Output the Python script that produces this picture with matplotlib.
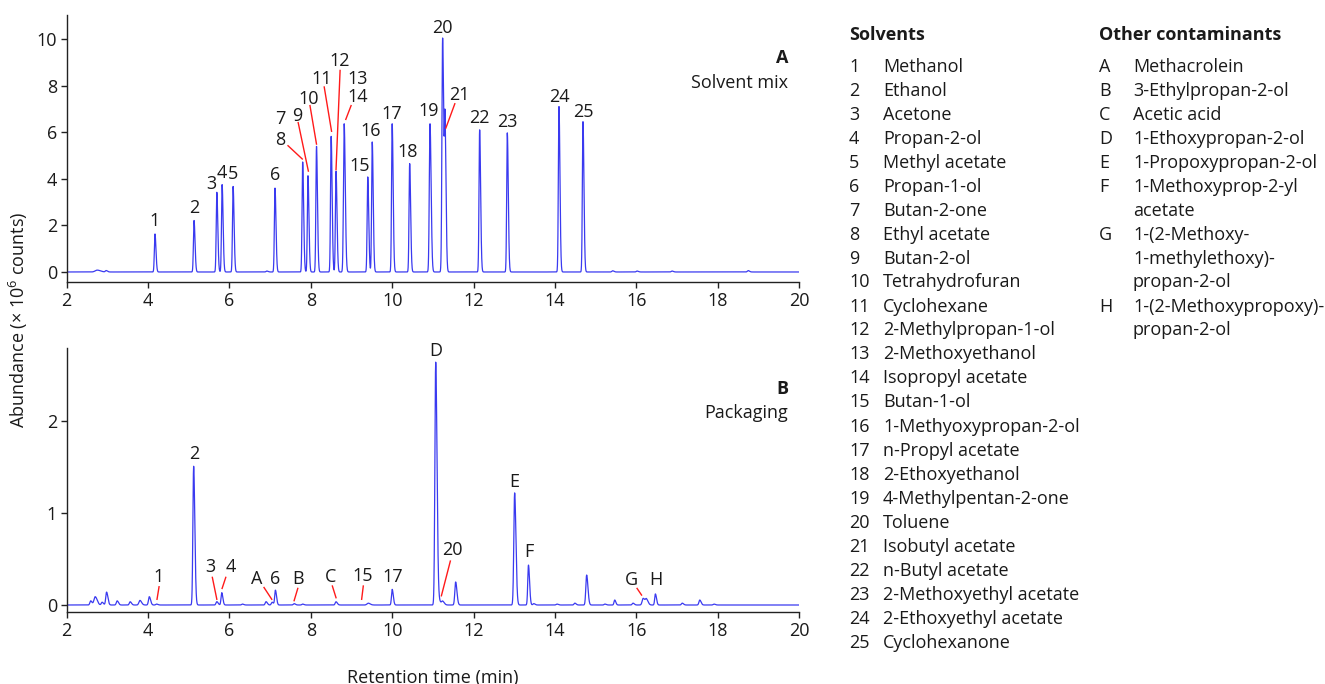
import numpy as np
import matplotlib
matplotlib.use("Agg")
import matplotlib.pyplot as plt
from matplotlib.transforms import offset_copy

plt.rcParams['font.family'] = ['Open Sans', 'DejaVu Sans']
plt.rcParams['mathtext.fontset'] = 'custom'
plt.rcParams['mathtext.rm'] = 'Open Sans'
plt.rcParams['mathtext.it'] = 'Open Sans'

# ---------------- data ----------------
# Panel A: solvent mix (retention time in min, abundance x1e6 counts)
a_rt = [2.75, 2.97, 4.17, 5.13, 5.69, 5.82, 6.09, 6.92, 7.12, 7.80, 7.93, 8.14, 8.50, 8.62,
        8.82, 9.40, 9.51, 10.00, 10.43, 10.93, 11.24, 11.30, 12.15, 12.83, 14.10, 14.69,
        15.42, 16.02, 16.88, 18.75]
a_h = [0.08, 0.06, 1.63, 2.21, 3.42, 3.75, 3.67, 0.04, 3.60, 4.72, 4.13, 5.39, 5.82, 4.32,
       6.36, 4.08, 5.58, 6.36, 4.65, 6.36, 10.04, 6.00, 6.10, 5.97, 7.10, 6.45,
       0.05, 0.04, 0.04, 0.06]
a_w = [0.05, 0.02, 0.015, 0.015, 0.015, 0.015, 0.015, 0.02, 0.015, 0.015, 0.015, 0.015, 0.015, 0.015,
       0.017, 0.015, 0.015, 0.015, 0.015, 0.017, 0.017, 0.015, 0.015, 0.015, 0.015, 0.015,
       0.02, 0.02, 0.02, 0.02]

# Panel B: packaging
b_rt = [2.59, 2.70, 2.87, 2.98, 3.24, 3.56, 3.80, 4.03, 4.21, 5.12, 5.69, 5.81, 6.32, 6.90,
        7.05, 7.13, 7.59, 7.80, 8.62, 9.41, 10.00, 11.07, 11.15, 11.24, 11.56, 13.01, 13.35,
        13.48, 14.05, 14.49, 14.78, 15.23, 15.47, 15.92, 16.17, 16.25, 16.47, 17.13, 17.56, 17.91]
b_h = [0.045, 0.09, 0.03, 0.14, 0.045, 0.035, 0.05, 0.09, 0.01, 1.506, 0.036, 0.134, 0.01, 0.036,
       0.03, 0.16, 0.015, 0.01, 0.035, 0.02, 0.17, 2.636, 0.047, 0.04, 0.25, 1.217, 0.433,
       0.015, 0.01, 0.02, 0.325, 0.01, 0.054, 0.02, 0.072, 0.06, 0.12, 0.02, 0.054, 0.01]
b_w = [0.02, 0.03, 0.02, 0.02, 0.02, 0.02, 0.025, 0.02, 0.02, 0.018, 0.02, 0.017, 0.02, 0.02,
       0.02, 0.017, 0.02, 0.02, 0.02, 0.03, 0.017, 0.02, 0.025, 0.025, 0.02, 0.02, 0.017,
       0.02, 0.02, 0.02, 0.02, 0.02, 0.017, 0.02, 0.025, 0.025, 0.017, 0.02, 0.02, 0.02]

# peak labels: (text, label x, label y (visual centre), leader line (x0, y0, x1, y1) or None)
a_labels = [
    ("1", 4.17, 2.24, None), ("2", 5.13, 2.80, None), ("3", 5.56, 3.83, None),
    ("4", 5.81, 4.32, None), ("5", 6.09, 4.27, None), ("6", 7.13, 4.21, None),
    ("7", 7.24, 6.61, None), ("9", 7.67, 6.75, (7.69, 6.41, 7.94, 4.33)),
    ("8", 7.24, 5.75, (7.44, 5.42, 7.79, 4.85)),
    ("10", 7.94, 7.51, (7.98, 7.14, 8.14, 5.49)),
    ("11", 8.27, 8.33, (8.33, 7.94, 8.51, 6.04)),
    ("12", 8.72, 9.11, (8.72, 8.65, 8.62, 4.39)),
    ("13", 9.16, 8.33, None),
    ("14", 9.16, 7.58, (8.99, 7.14, 8.86, 6.55)),
    ("15", 9.19, 4.61, None), ("16", 9.47, 6.11, None), ("17", 9.99, 6.85, None),
    ("18", 10.39, 5.21, None), ("19", 10.90, 6.97, None), ("20", 11.24, 10.54, None),
    ("21", 11.65, 7.68, (11.54, 7.22, 11.32, 6.18)),
    ("22", 12.14, 6.68, None), ("23", 12.84, 6.51, None), ("24", 14.10, 7.58, None),
    ("25", 14.69, 6.92, None),
]
b_labels = [
    ("1", 4.25, 0.325, (4.27, 0.198, 4.22, 0.062)),
    ("2", 5.13, 1.654, None),
    ("3", 5.52, 0.433, (5.58, 0.30, 5.69, 0.062)),
    ("4", 6.03, 0.433, (5.91, 0.30, 5.82, 0.18)),
    ("A", 6.67, 0.30, (6.85, 0.19, 7.04, 0.062)),
    ("6", 7.13, 0.30, None),
    ("B", 7.69, 0.30, (7.68, 0.18, 7.59, 0.047)),
    ("C", 8.49, 0.325, (8.53, 0.206, 8.62, 0.079)),
    ("15", 9.27, 0.336, (9.29, 0.206, 9.25, 0.062)),
    ("17", 10.01, 0.325, None),
    ("D", 11.07, 2.77, None),
    ("20", 11.48, 0.614, (11.43, 0.477, 11.21, 0.10)),
    ("E", 13.00, 1.354, None),
    ("F", 13.35, 0.596, None),
    ("G", 15.88, 0.289, (16.02, 0.18, 16.13, 0.108)),
    ("H", 16.47, 0.289, None),
]

solvents = ["Methanol", "Ethanol", "Acetone", "Propan-2-ol", "Methyl acetate", "Propan-1-ol",
            "Butan-2-one", "Ethyl acetate", "Butan-2-ol", "Tetrahydrofuran", "Cyclohexane",
            "2-Methylpropan-1-ol", "2-Methoxyethanol", "Isopropyl acetate", "Butan-1-ol",
            "1-Methyoxypropan-2-ol", "n-Propyl acetate", "2-Ethoxyethanol",
            "4-Methylpentan-2-one", "Toluene", "Isobutyl acetate", "n-Butyl acetate",
            "2-Methoxyethyl acetate", "2-Ethoxyethyl acetate", "Cyclohexanone"]
others = [("A", "Methacrolein"), ("B", "3-Ethylpropan-2-ol"), ("C", "Acetic acid"),
          ("D", "1-Ethoxypropan-2-ol"), ("E", "1-Propoxypropan-2-ol"),
          ("F", "1-Methoxyprop-2-yl\nacetate"),
          ("G", "1-(2-Methoxy-\n1-methylethoxy)-\npropan-2-ol"),
          ("H", "1-(2-Methoxypropoxy)-\npropan-2-ol")]

# ---------------- drawing ----------------
W, H = 1325, 684
fig = plt.figure(figsize=(W / 100, H / 100), dpi=100)
FS = 13
TXT = '#1a1a1a'
LINE = '#3a3af0'
CAPH = 6.5  # half cap height in pixels: visual centre -> baseline

t = np.arange(2.0, 20.0, 0.002)


def trace(rts, hs, ws):
    y = np.zeros_like(t)
    for r, h, w in zip(rts, hs, ws):
        wr = np.where(t > r, w * 1.6, w)
        y += h * np.exp(-0.5 * ((t - r) / wr) ** 2)
    return y


def style(ax, ylim, yticks):
    ax.set_xlim(2, 20)
    ax.set_ylim(*ylim)
    ax.set_xticks(np.arange(2, 21, 2))
    ax.set_yticks(yticks)
    for s in ['top', 'right']:
        ax.spines[s].set_visible(False)
    for s in ['left', 'bottom']:
        ax.spines[s].set_linewidth(1.0)
        ax.spines[s].set_color('#222222')
    ax.tick_params(direction='out', length=4, width=1, labelsize=FS, colors='#222222',
                   labelcolor=TXT, pad=3)
    ax.patch.set_alpha(0)


def labels(ax, labs):
    tr = offset_copy(ax.transData, fig=fig, y=-CAPH, units='dots')
    for txt, x, y, ln in labs:
        ax.text(x, y, txt, ha='center', va='baseline', fontsize=FS, color=TXT, transform=tr)
        if ln is not None:
            ax.plot([ln[0], ln[2]], [ln[1], ln[3]], color='#ff1a1a', lw=1.0)


def ftext(xp, yp, s, **kw):
    fig.text(xp / W, 1 - (yp + CAPH) / H, s, va='baseline', fontsize=FS, color=TXT, **kw)


axA = fig.add_axes([66.7 / W, 1 - 282 / H, (799 - 66.7) / W, (282 - 15) / H])
axA.plot(t, trace(a_rt, a_h, a_w), color=LINE, lw=0.9)
style(axA, (-0.43, 11.03), [0, 2, 4, 6, 8, 10])
labels(axA, a_labels)

axB = fig.add_axes([66.7 / W, 1 - 612 / H, (799 - 66.7) / W, (612 - 348) / H])
axB.plot(t, trace(b_rt, b_h, b_w), color=LINE, lw=0.9)
style(axB, (-0.076, 2.79), [0, 1, 2])
labels(axB, b_labels)

ftext(788, 56.7, "A", ha='right', fontweight='bold')
ftext(788, 81.7, "Solvent mix", ha='right')
ftext(788, 387.3, "B", ha='right', fontweight='bold')
ftext(788, 411.7, "Packaging", ha='right')

fig.text(18 / W, 1 - 320 / H, r"Abundance (× 10$^6$ counts)", rotation=90,
         ha='center', va='center', fontsize=FS, color=TXT)
ftext(433, 676, "Retention time (min)", ha='center')

# legend
ftext(849, 33, "Solvents", ha='left', fontweight='bold')
for i, name in enumerate(solvents):
    yy = 65 + 24 * i
    ftext(849, yy, str(i + 1), ha='left')
    ftext(883, yy, name, ha='left')

ftext(1099, 33, "Other contaminants", ha='left', fontweight='bold')
row = 0
for letter, name in others:
    for j, part in enumerate(name.split("\n")):
        yy = 65 + 24 * row
        if j == 0:
            ftext(1099, yy, letter, ha='left')
        ftext(1133, yy, part, ha='left')
        row += 1

fig.savefig("out.png", dpi=100)
